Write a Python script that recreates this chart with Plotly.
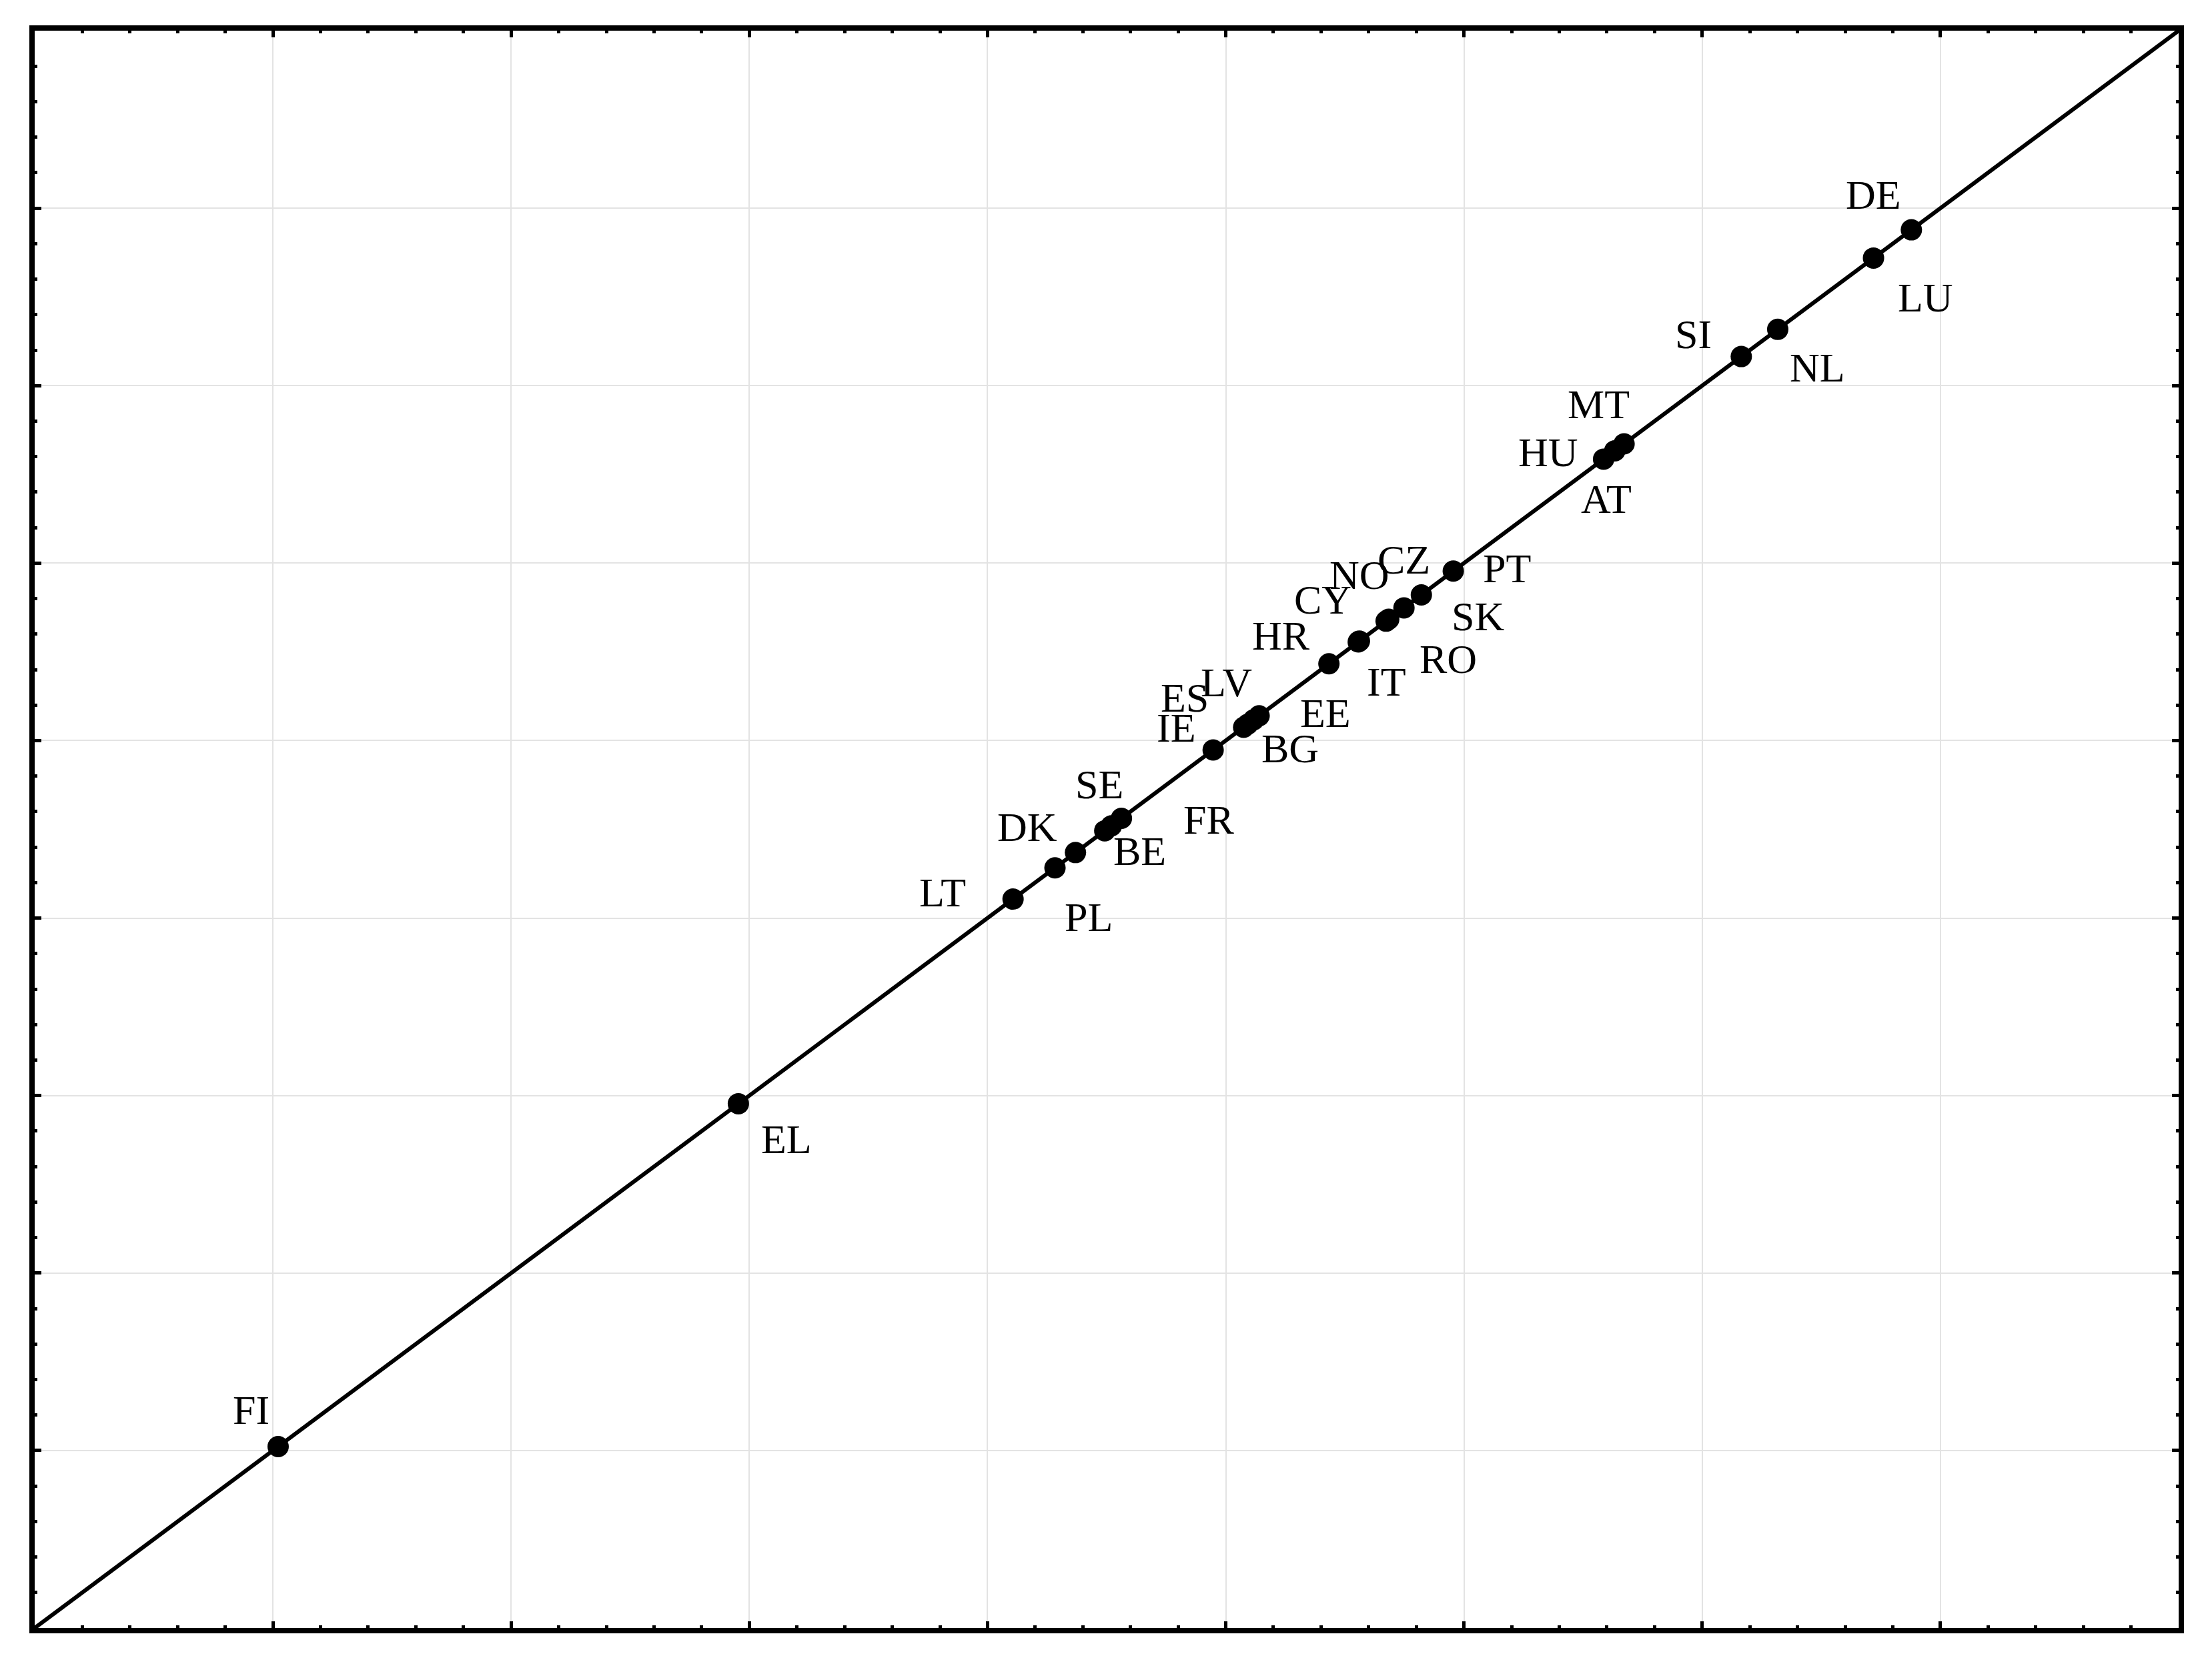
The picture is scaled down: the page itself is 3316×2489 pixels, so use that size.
import plotly.graph_objects as go

countries = ["FI","EL","LT","PL","DK","SE","BE","FR","IE","ES","LV","EE","BG","HR",
             "CY","IT","NO","RO","CZ","SK","PT","HU","AT","MT","SI","NL","LU","DE"]
values = [1.022,2.954,4.107,4.283,4.369,4.492,4.520,4.562,4.947,5.075,5.092,5.117,5.140,5.433,
          5.556,5.561,5.673,5.684,5.748,5.821,5.955,6.586,6.633,6.672,7.164,7.317,7.719,7.878]
diag = [0, 9]

# label offsets (display px relative to dot; y down)
label_offsets = {
    "FI":(-19,-26),"EL":(34,25),"LT":(-50,-5),"PL":(24,35),"DK":(-34,-18),"SE":(-4,-33),
    "BE":(20,18),"FR":(62,1),"IE":(-26,-16),"ES":(-42,-21),"LV":(-15,-30),"EE":(51,-5),
    "BG":(22,23),"HR":(-34,-20),"CY":(-25,-30),"IT":(19,29),"NO":(-19,-33),"RO":(42,28),
    "CZ":(0,-34),"SK":(40,15),"PT":(38,-2),"HU":(-39,-5),"AT":(-6,34),"MT":(-18,-28),
    "SI":(-34,-16),"NL":(28,27),"LU":(37,28),"DE":(-27,-25),
}
S = 2.115

fig = go.Figure()
fig.add_trace(go.Scatter(x=diag, y=diag, mode="lines", line=dict(color="black", width=6),
                         hoverinfo="skip", showlegend=False))
fig.add_trace(go.Scatter(x=values, y=values, mode="markers", marker=dict(color="black", size=32),
                         text=countries, showlegend=False))
for c, v in zip(countries, values):
    dx, dy = label_offsets[c]
    fig.add_annotation(x=v, y=v, text=c, showarrow=False, xshift=dx*S, yshift=-dy*S,
                       font=dict(family="Times New Roman, Liberation Serif, serif", size=62, color="black"))

ax = dict(range=[0, 9], dtick=1, showticklabels=False, showgrid=True, gridcolor="#e3e3e3",
          gridwidth=2, zeroline=False, showline=True, linecolor="black", linewidth=8,
          mirror="ticks", ticks="inside", ticklen=10, tickwidth=5, tickcolor="black",
          minor=dict(ticks="inside", ticklen=4, tickwidth=5, tickcolor="black", nticks=5, showgrid=False))
fig.update_layout(width=3316, height=2489, plot_bgcolor="white", paper_bgcolor="white",
                  margin=dict(l=44, r=58, t=38, b=56), xaxis=ax, yaxis=ax)
fig.write_html("out.html")
